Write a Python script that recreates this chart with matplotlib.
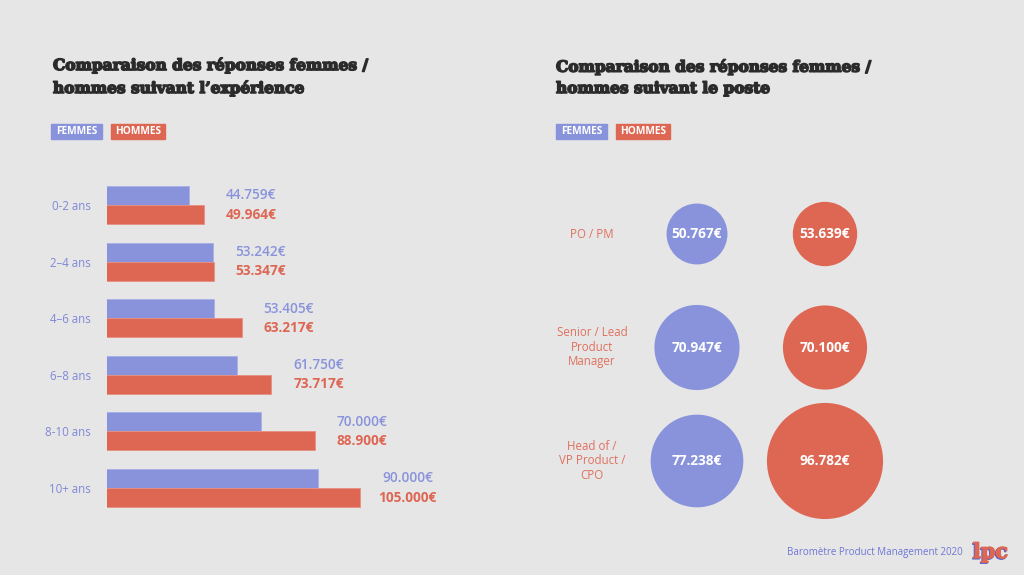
import matplotlib
matplotlib.use("Agg")
import matplotlib.pyplot as plt
import matplotlib.patheffects as pe
from matplotlib.patches import Rectangle

# ============================
# DATA
# ============================

EXPERIENCE = ["0-2 ans", "2\u20134 ans", "4\u20136 ans", "6\u20138 ans", "8-10 ans", "10+ ans"]
EXP_FEMMES = [44759, 53242, 53405, 61750, 70000, 90000]
EXP_HOMMES = [49964, 53347, 63217, 73717, 88900, 105000]

POSTES = ["PO / PM", "Senior / Lead\nProduct\nManager", "Head of /\nVP Product /\nCPO"]
POSTE_FEMMES = [50767, 70947, 77238]
POSTE_HOMMES = [53639, 70100, 96782]

TITLE_LEFT = "Comparaison des réponses femmes /\nhommes suivant l\u2019expérience"
TITLE_RIGHT = "Comparaison des réponses femmes /\nhommes suivant le poste"
FOOTER = "Baromètre Product Management 2020"

# ============================
# STYLE
# ============================

BG = "#e6e6e6"
BLUE = "#8993dc"
RED = "#de6754"
LABEL_BLUE = "#7f88d8"
LABEL_RED = "#e0705e"
DARK = "#2b2b2b"
SANS = ["Open Sans", "DejaVu Sans"]
SLAB = ["DejaVu Serif"]

W, H = 1024, 575


def fx(px):
    return px / W


def fy(py):
    return 1 - py / H


def euro(v):
    return f"{v / 1000:.3f}€"


fig = plt.figure(figsize=(W / 100, H / 100), dpi=100, facecolor=BG)

# ============================
# TITLES + LEGENDS
# ============================

heavy = [pe.withStroke(linewidth=1.1, foreground=DARK)]
for x0, title in [(53, TITLE_LEFT), (556, TITLE_RIGHT)]:
    fig.text(fx(x0), fy(93), title, family=SLAB, fontweight="bold",
             fontsize=11.1, color=DARK, va="baseline", ha="left",
             linespacing=1.66, path_effects=heavy)


def legend_box(x0, x1, label, color):
    fig.patches.append(Rectangle((fx(x0), fy(139)), fx(x1 - x0), 15 / H,
                                 transform=fig.transFigure, color=color))
    fig.text(fx((x0 + x1) / 2), fy(131.5), label, family=SANS, fontweight="bold",
             fontsize=7.3, color="white", ha="center", va="center")


legend_box(51, 102, "FEMMES", BLUE)
legend_box(111, 165, "HOMMES", RED)
legend_box(556, 607, "FEMMES", BLUE)
legend_box(616, 670, "HOMMES", RED)

# ============================
# LEFT: BARS
# ============================

ax = fig.add_axes([fx(107), fy(516.3), fx(393), 339.6 / H])
ax.set_facecolor("none")
n = len(EXPERIENCE)
pos = list(range(n))
bh = 0.336
ax.barh([p - bh / 2 for p in pos], EXP_FEMMES, height=bh, color=BLUE,
        edgecolor="#a9b0e6", linewidth=0.6)
ax.barh([p + bh / 2 for p in pos], EXP_HOMMES, height=bh, color=RED,
        edgecolor="#e88f80", linewidth=0.6)
ax.set_xlim(15800, 154200)
ax.set_ylim(n - 0.5, -0.5)
for s in ax.spines.values():
    s.set_visible(False)
ax.set_xticks([])
ax.set_yticks(pos)
ax.set_yticklabels(EXPERIENCE, family=SANS, fontsize=8.3, color=LABEL_BLUE)
ax.tick_params(axis="y", length=0, pad=11.5)

for p, f, m in zip(pos, EXP_FEMMES, EXP_HOMMES):
    xm = max(f, m)
    ax.annotate(euro(f), (xm, p - bh / 2), xytext=(34, 0), textcoords="offset points",
                ha="center", va="center", family=SANS, fontweight="semibold",
                fontsize=9.8, color=BLUE)
    ax.annotate(euro(m), (xm, p + bh / 2), xytext=(34, 0), textcoords="offset points",
                ha="center", va="center", family=SANS, fontweight="bold",
                fontsize=9.8, color=RED)

# ============================
# RIGHT: CIRCLES
# ============================

ax2 = fig.add_axes([fx(633), fy(517.75), fx(256), 340.5 / H])
ax2.set_facecolor("none")
ax2.axis("off")
ax2.set_xlim(-0.5, 1.5)
ax2.set_ylim(2.5, -0.5)
rows = list(range(len(POSTES)))


def size(v):
    # radius ~0.6 px per k€ -> marker diameter in points
    return (2 * 0.6 * v / 1000 * 0.72) ** 2


ax2.scatter([0] * len(rows), rows, s=[size(v) for v in POSTE_FEMMES], color=BLUE,
            edgecolors="none", clip_on=False)
ax2.scatter([1] * len(rows), rows, s=[size(v) for v in POSTE_HOMMES], color=RED,
            edgecolors="none", clip_on=False)
for r, f, m, lab in zip(rows, POSTE_FEMMES, POSTE_HOMMES, POSTES):
    ax2.text(0, r, euro(f), ha="center", va="center", family=SANS,
             fontweight="bold", fontsize=9.8, color="white")
    ax2.text(1, r, euro(m), ha="center", va="center", family=SANS,
             fontweight="bold", fontsize=9.8, color="white")
    ax2.text(-0.82, r, lab, ha="center", va="center", family=SANS,
             fontsize=8.3, color=LABEL_RED, linespacing=1.15, clip_on=False)

# ============================
# FOOTER
# ============================

fig.text(fx(963), fy(553), FOOTER, family=SANS, fontsize=7, color="#6d76d4",
         ha="right", va="center")
for dx, dy, col in [(-1, 1, "#5a63c8"), (0, 0, RED)]:
    fig.text(fx(973 + dx), fy(558 + dy), "lpc", family=SLAB, fontweight="bold",
             fontsize=15, color=col, ha="left", va="baseline",
             path_effects=[pe.withStroke(linewidth=0.8, foreground=col)])

fig.savefig("out.png", dpi=100, facecolor=BG)
